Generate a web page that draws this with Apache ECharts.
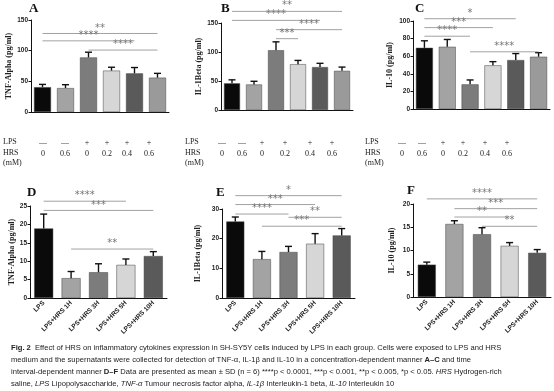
<!DOCTYPE html>
<html><head><meta charset="utf-8">
<script src="https://cdn.jsdelivr.net/npm/echarts@6/dist/echarts.min.js"></script>
<style>html,body{margin:0;padding:0;background:#fff}#c{width:554px;height:391px}</style>
</head><body><div id="c"></div>
<script>
// ---------- data ----------
const catsConc = ['g1','g2','g3','g4','g5','g6'];
const catsTime = ['LPS','LPS+HRS 1H','LPS+HRS 3H','LPS+HRS 5H','LPS+HRS 10H'];
const lpsRow = ['—','—','+','+','+','+'];
const hrsRow = ['0','0.6','0','0.2','0.4','0.6'];

const meanA = [40.5, 39, 89, 67.5, 63, 56];
const sdA   = [4.5, 5.5, 8.5, 5.5, 9.5, 7];
const meanB = [46, 44, 103, 79, 74, 67.5];
const sdB   = [6, 5.5, 14.5, 6.5, 6.5, 6.5];
const meanC = [69.5, 70.7, 28, 49.6, 55.6, 59.4];
const sdC   = [8, 8.3, 5, 4.2, 7.4, 4.6];
const meanD = [18.9, 5.4, 7.0, 9.0, 11.4];
const sdD   = [3.9, 1.8, 2.3, 1.6, 1.2];
const meanE = [25.8, 13.1, 15.5, 18.3, 21.1];
const sdE   = [1.5, 2.6, 1.9, 3.4, 2.3];
const meanF = [6.95, 15.7, 13.5, 11.0, 9.5];
const sdF   = [0.55, 0.7, 1.4, 0.7, 0.7];

// significance brackets: [fromIndex, toIndex, yValue, stars]
const sigA = [[0,5,128,'**'],[0,4,116,'****'],[2,5,101,'****']];
const sigB = [[0,5,170,'**'],[0,4,154.5,'****'],[2,5,138.5,'****'],[2,3,123,'***']];
const sigC = [[0,4,102.6,'*'],[0,3,92.5,'***'],[0,2,82.7,'****'],[2,5,65,'****']];
const sigD = [[0,3,26.3,'****'],[0,4,23.8,'***'],[1,4,13.3,'**']];
const sigE = [[0,4,34.5,'*'],[0,3,31.5,'***'],[0,2,28.3,'****'],[2,4,27.2,'**'],[1,4,24.2,'***']];
const sigF = [[0,4,21.1,'****'],[1,4,19.0,'***'],[1,3,17.2,'**'],[2,4,15.2,'**']];

const yMaxA = 150, yIntA = 50;
const yMaxB = 150, yIntB = 50;
const yMaxC = 100, yIntC = 20;
const yMaxD = 25, yIntD = 5;
const yMaxE = 30, yIntE = 10;
const yMaxF = 20, yIntF = 5;

const yNames = ['TNF-Alpha (pg/ml)','IL-1Beta (pg/ml)','IL-10 (pg/ml)','TNF-Alpha (pg/ml)','IL-1Beta (pg/ml)','IL-10 (pg/ml)'];
const panelLetters = ['A','B','C','D','E','F'];

// ---------- styling / layout ----------
const barColors = ['#0a0a0a','#a3a3a3','#7c7c7c','#d6d6d6','#5a5a5a','#9a9a9a'];
const SANS = 'Liberation Sans, Arial, sans-serif';
const SERIF = 'Liberation Serif, Times New Roman, serif';

const panels = [
  {cats: catsConc, mean: meanA, sd: sdA, sig: sigA, max: yMaxA, int: yIntA, grid:{left:31, top:20, width:138, height:92}, bw:17, gap:17, rot:false, title:[29,2]},
  {cats: catsConc, mean: meanB, sd: sdB, sig: sigB, max: yMaxB, int: yIntB, grid:{left:221, top:23, width:132, height:87}, bw:16, gap:10, rot:false, title:[221,2]},
  {cats: catsConc, mean: meanC, sd: sdC, sig: sigC, max: yMaxC, int: yIntC, grid:{left:413, top:21, width:137, height:88}, bw:17, gap:19, rot:false, title:[415,2]},
  {cats: catsTime, mean: meanD, sd: sdD, sig: sigD, max: yMaxD, int: yIntD, grid:{left:30, top:206, width:137, height:92}, bw:19, gap:14, rot:true, title:[27,186]},
  {cats: catsTime, mean: meanE, sd: sdE, sig: sigE, max: yMaxE, int: yIntE, grid:{left:222, top:209, width:133, height:89}, bw:18, gap:20, rot:true, title:[216,186]},
  {cats: catsTime, mean: meanF, sd: sdF, sig: sigF, max: yMaxF, int: yIntF, grid:{left:413, top:204, width:138, height:93}, bw:18, gap:17, rot:true, title:[407,184]}
];

const grids = [], xAxes = [], yAxes = [], series = [], titles = [];

function errItem(params, api){
  const x = api.value(0), lo = api.value(1), hi = api.value(2);
  const p0 = api.coord([x, lo]), p1 = api.coord([x, hi]);
  const hw = 3.5;
  return {type:'group', children:[
    {type:'line', shape:{x1:p0[0],y1:p0[1],x2:p1[0],y2:p1[1]}, style:{stroke:'#111',lineWidth:1.4}},
    {type:'line', shape:{x1:p1[0]-hw,y1:p1[1],x2:p1[0]+hw,y2:p1[1]}, style:{stroke:'#111',lineWidth:1.4}}
  ]};
}

panels.forEach((p, k) => {
  grids.push(Object.assign({containLabel:false}, p.grid));
  xAxes.push({
    type:'category', gridIndex:k, data:p.cats,
    axisLine:{lineStyle:{color:'#111', width:1}},
    axisTick:{alignWithLabel:true, length:3, lineStyle:{color:'#111'}},
    axisLabel: p.rot ? {show:true, rotate:45, interval:0, margin:4, fontSize:6.5, fontWeight:'bold', fontFamily:SANS, color:'#222'} : {show:false}
  });
  yAxes.push({
    type:'value', gridIndex:k, min:0, max:p.max, interval:p.int,
    name: yNames[k], nameLocation:'middle', nameGap:p.gap, nameRotate:90,
    nameTextStyle:{fontFamily:SERIF, fontWeight:'bold', fontSize:8, color:'#222'},
    axisLine:{show:true, lineStyle:{color:'#111', width:1}},
    axisTick:{show:true, length:2.5, lineStyle:{color:'#111'}},
    axisLabel:{fontSize:6.5, fontWeight:'bold', fontFamily:SANS, color:'#222', margin:3},
    splitLine:{show:false}
  });
  series.push({
    type:'bar', xAxisIndex:k, yAxisIndex:k, barWidth:p.bw,
    data: p.mean.map((v,i)=>({value:v, itemStyle:{color:barColors[i], borderColor:'#444', borderWidth:0.5}})),
    z:2
  });
  series.push({
    type:'custom', xAxisIndex:k, yAxisIndex:k, clip:false, z:3,
    renderItem: errItem,
    encode:{x:0, y:[1,2]},
    data: p.mean.map((v,i)=>[i, v, v + p.sd[i]])
  });
  const sig = p.sig;
  series.push({
    type:'custom', xAxisIndex:k, yAxisIndex:k, clip:false, z:4,
    encode:{x:[0,1], y:2},
    data: sig.map(s=>[s[0], s[1], s[2]]),
    renderItem: function(params, api){
      const a = api.coord([api.value(0), api.value(2)]);
      const b = api.coord([api.value(1), api.value(2)]);
      return {type:'group', children:[
        {type:'line', shape:{x1:a[0],y1:a[1],x2:b[0],y2:b[1]}, style:{stroke:'#8a8a8a', lineWidth:0.8}},
        {type:'text', style:{x:(a[0]+b[0])/2, y:a[1]-0.5, text:sig[params.dataIndex][3], fill:'#777',
          fontSize:10, fontFamily:'DejaVu Sans', align:'center', verticalAlign:'bottom'}}
      ]};
    }
  });
  titles.push({text: panelLetters[k], left:p.title[0], top:p.title[1], padding:0,
    textStyle:{fontFamily:SERIF, fontWeight:'bold', fontSize:13, color:'#111'}});
});

// treatment table (A-C)
const tableLayout = [
  {labelX:3, cols:[43,65,87,107,127,149]},
  {labelX:185, cols:[222,242,262,285,310,332]},
  {labelX:365, cols:[402,422,443,463,485,507]}
];
const rowY = [143, 154, 164];
const graphics = [];
const tStyle = {fontFamily:SERIF, fontSize:8, fill:'#222'};
tableLayout.forEach(t => {
  ['LPS','HRS','(mM)'].forEach((lab, r) => {
    graphics.push({type:'text', left:t.labelX, top:rowY[r]-5, style:Object.assign({text:lab}, tStyle)});
  });
  lpsRow.forEach((s,i)=>graphics.push({type:'text', x:t.cols[i], y:rowY[0], style:Object.assign({text:s, align:'center', verticalAlign:'middle'}, tStyle)}));
  hrsRow.forEach((s,i)=>graphics.push({type:'text', x:t.cols[i], y:rowY[1], style:Object.assign({text:s, align:'center', verticalAlign:'middle'}, tStyle)}));
});

// caption
const CAPFS = 7.6;
const capRich = {
  b:{fontWeight:'bold', fontFamily:SANS, fontSize:CAPFS, fill:'#222'},
  i:{fontStyle:'italic', fontFamily:SANS, fontSize:CAPFS, fill:'#222'}
};
const capLines = [
  '{b|Fig. 2}  Effect of HRS on inflammatory cytokines expression in SH-SY5Y cells induced by LPS in each group. Cells were exposed to LPS and HRS',
  'medium and the supernatants were collected for detection of TNF-α, IL-1β and IL-10 in a concentration-dependent manner {b|A–C} and time',
  'interval-dependent manner {b|D–F} Data are presented as mean ± SD (n = 6) ****p < 0.0001, ***p < 0.001, **p < 0.005, *p < 0.05. {i|HRS} Hydrogen-rich',
  'saline, {i|LPS} Lipopolysaccharide, {i|TNF-α} Tumour necrosis factor alpha, {i|IL-1β} Interleukin-1 beta, {i|IL-10} Interleukin 10'
];
const capY = [348, 360, 372, 384];
capLines.forEach((t, i) => {
  graphics.push({type:'text', x:11, y:capY[i], z:100, style:{text:t, rich:capRich, fontFamily:SANS, fontSize:CAPFS, fill:'#222', verticalAlign:'middle'}});
});

const chart = echarts.init(document.getElementById('c'), null, {renderer:'canvas'});
chart.setOption({
  animation:false,
  backgroundColor:'#fff',
  title: titles,
  grid: grids, xAxis: xAxes, yAxis: yAxes, series: series,
  graphic: graphics
});
</script></body></html>
